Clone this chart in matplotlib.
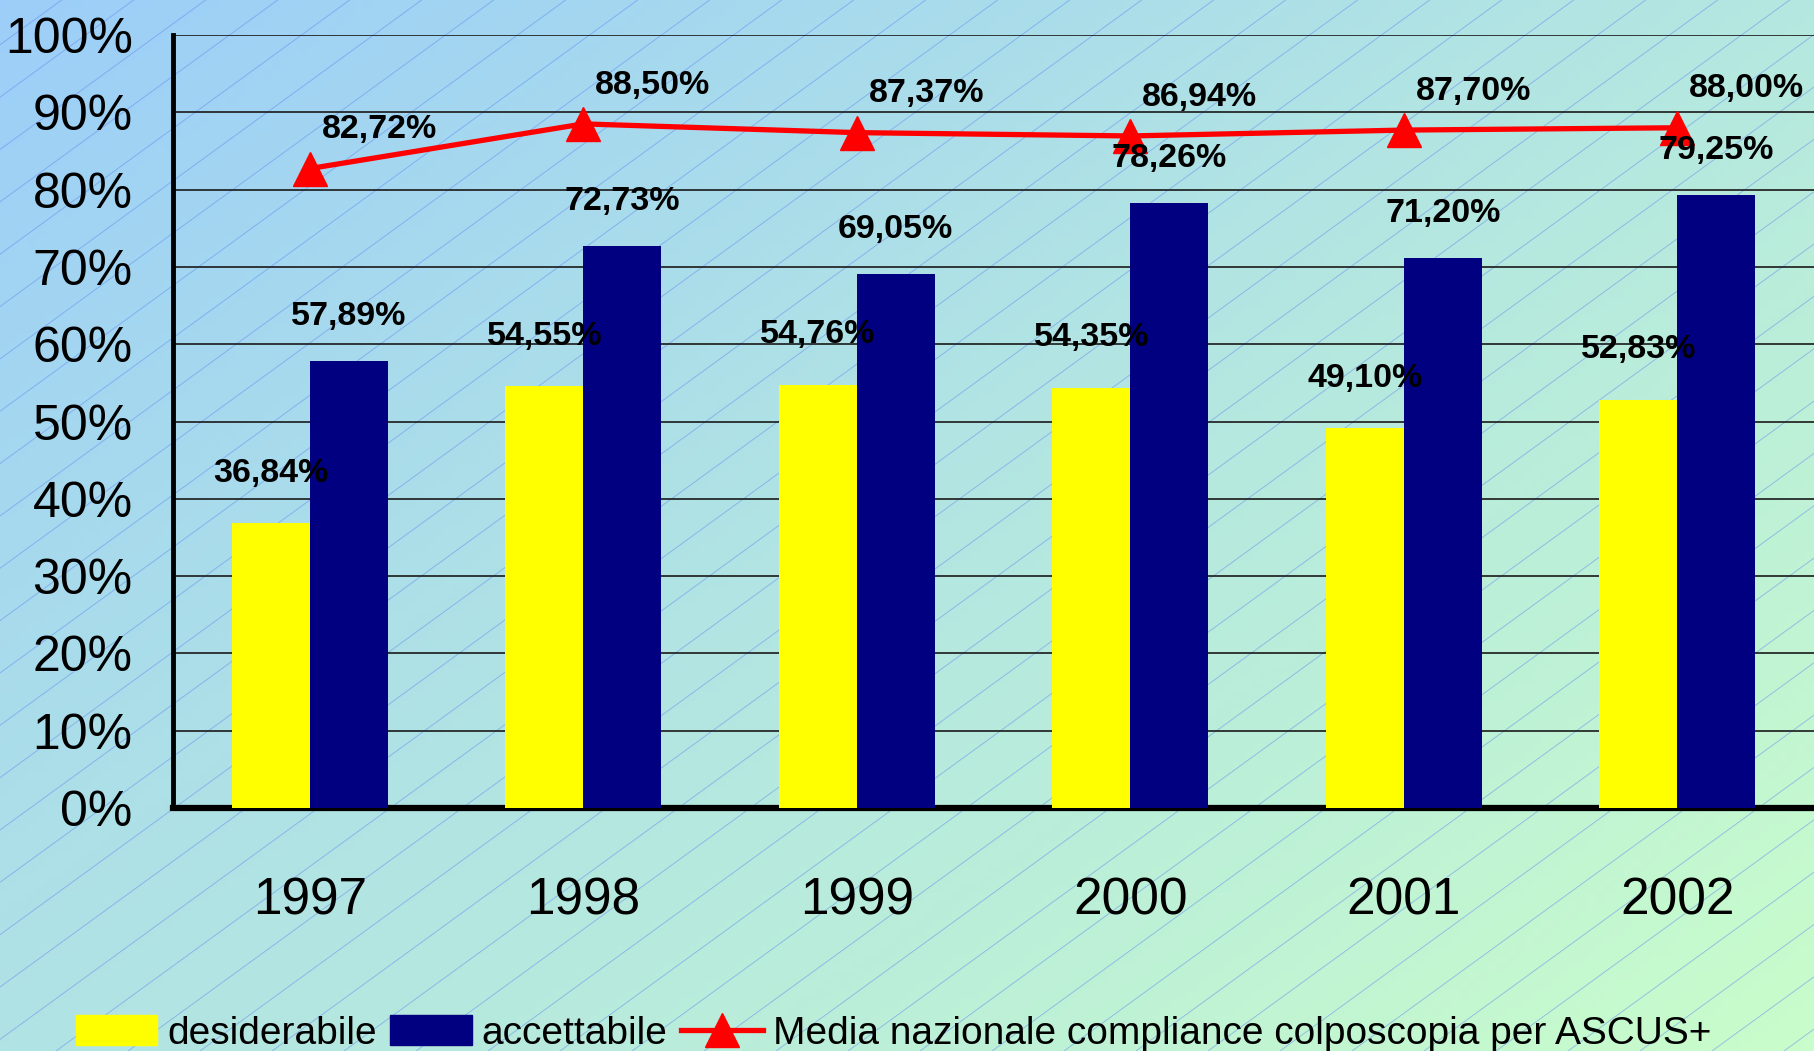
import matplotlib
matplotlib.use("Agg")
import matplotlib.pyplot as plt
import numpy as np
from matplotlib.colors import to_rgb
from matplotlib.lines import Line2D
from matplotlib.patches import Patch

# dati
anni = ["1997", "1998", "1999", "2000", "2001", "2002"]
desiderabile = [36.84, 54.55, 54.76, 54.35, 49.10, 52.83]
accettabile = [57.89, 72.73, 69.05, 78.26, 71.20, 79.25]
media_naz = [82.72, 88.50, 87.37, 86.94, 87.70, 88.00]
yticks = [0, 10, 20, 30, 40, 50, 60, 70, 80, 90, 100]

plt.rcParams['font.family'] = ['Liberation Sans', 'DejaVu Sans']

W, H = 1814, 1051
fig = plt.figure(figsize=(W / 100, H / 100), dpi=100)

# sfondo sfumato + linee diagonali
bg = fig.add_axes([0, 0, 1, 1], zorder=-10)
bg.set_xlim(0, W)
bg.set_ylim(0, H)
bg.axis('off')
c1 = np.array(to_rgb('#9ccef9'))
c2 = np.array(to_rgb('#c9fdcb'))
gx, gy = np.meshgrid(np.linspace(0, 1, 200), np.linspace(1, 0, 120))
t = (gx * 0.55 + (1 - gy) * 0.45)
img = c1[None, None, :] * (1 - t[..., None]) + c2[None, None, :] * t[..., None]
bg.imshow(img, extent=[0, W, 0, H], aspect='auto', origin='upper')
slope = 0.727
for x0 in np.arange(-1600, W + 100, 72):
    bg.plot([x0, x0 + H / slope], [0, H], color='#5a7ff0', lw=0.7, alpha=0.45)

ax = fig.add_axes([173 / W, 1 - 808 / H, 1 - 173 / W, (808 - 35) / H])
ax.patch.set_alpha(0)

x = np.arange(len(anni))
w = 0.285
ax.bar(x - w / 2, desiderabile, w, color='#ffff00', zorder=3)
ax.bar(x + w / 2, accettabile, w, color='#000080', zorder=3)
ax.plot(x, media_naz, color='#ff0000', lw=3.8, marker='^', markersize=25,
        zorder=5)

fs_lab = 24.5
for xi, v in zip(x, desiderabile):
    ax.annotate(f"{v:.2f}%".replace('.', ','), (xi - w / 2, v),
                xytext=(0, 36), textcoords='offset points', ha='center',
                va='center', fontsize=fs_lab, fontweight='bold', zorder=6)
for xi, v in zip(x, accettabile):
    ax.annotate(f"{v:.2f}%".replace('.', ','), (xi + w / 2, v),
                xytext=(0, 32), textcoords='offset points', ha='center',
                va='center', fontsize=fs_lab, fontweight='bold', zorder=6)
for xi, v in zip(x, media_naz):
    ax.annotate(f"{v:.2f}%".replace('.', ','), (xi, v),
                xytext=(50, 28), textcoords='offset points', ha='center',
                va='center', fontsize=fs_lab, fontweight='bold', zorder=6)

ax.set_xlim(-0.5, len(anni) - 0.5)
ax.set_ylim(0, 100)
ax.set_yticks(yticks)
ax.set_yticklabels([f"{v}%" for v in yticks], fontsize=36)
ax.set_xticks(x)
ax.set_xticklabels(anni, fontsize=37)
ax.tick_params(axis='both', length=0)
ax.tick_params(axis='y', pad=29)
ax.tick_params(axis='x', pad=49)
ax.yaxis.grid(True, color='#1a1a1a', lw=1.2, zorder=0)
ax.set_axisbelow(True)
for s in ['top', 'right']:
    ax.spines[s].set_visible(False)
ax.spines['left'].set_linewidth(3.5)
ax.spines['bottom'].set_linewidth(4.5)

handles = [Patch(color='#ffff00'), Patch(color='#000080'),
           Line2D([], [], color='#ff0000', lw=3.8, marker='^', markersize=25)]
labels = ['desiderabile', 'accettabile',
          'Media nazionale compliance colposcopia per ASCUS+']
fig.legend(handles, labels, loc='lower left', bbox_to_anchor=(68 / W, -0.008),
           ncol=3, frameon=False, fontsize=28, handlelength=2.1,
           handleheight=0.78, handletextpad=0.25, columnspacing=0.35,
           borderpad=0.1, borderaxespad=0.1)

fig.savefig('out.png', dpi=100)
